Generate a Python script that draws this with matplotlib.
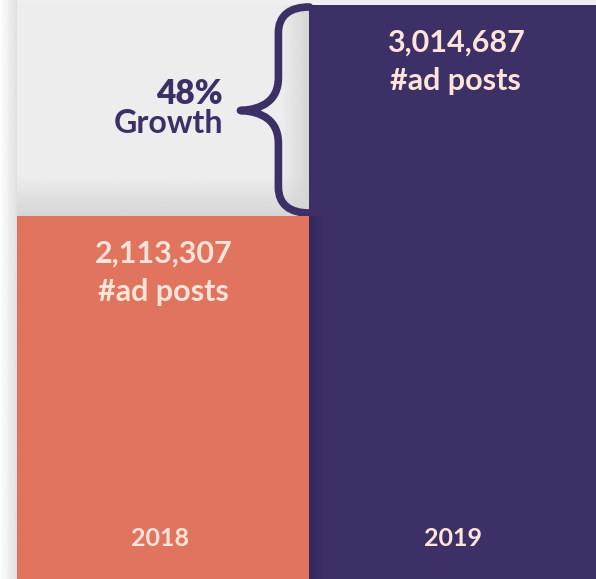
import numpy as np
import matplotlib.pyplot as plt
from matplotlib.path import Path
from matplotlib.patches import PathPatch, Rectangle
from matplotlib.colors import to_rgb
import matplotlib.transforms as mtransforms

years = ['2018', '2019']
posts = [2113307, 3014687]
growth_label = '48%'

orange = '#E1745F'
purple = '#3D3067'
peach = '#FFE4DA'
panel = '#EDEDED'

plt.rcParams['font.family'] = ['Lato', 'DejaVu Sans']

fig = plt.figure(figsize=(5.96, 5.79), dpi=100)
ax = fig.add_axes([0, 0, 1, 1])
ax.set_axis_off()

# pixel -> data scales (bars are ~292 px wide, gap between tops is 211 px)
ux = 1 / 292.4
uy = (posts[1] - posts[0]) / 211
ax.set_xlim(-0.5 - 17 * ux, -0.5 + 579 * ux)
ax.set_ylim(posts[0] - 363 * uy, posts[1] + 5 * uy)
y0, y1 = ax.get_ylim()
x0, x1 = ax.get_xlim()


def grad(ext, color, a0, a1, horizontal=True, z=1):
    n = 64
    a = np.linspace(a0, a1, n)
    img = np.zeros((1, n, 4)) if horizontal else np.zeros((n, 1, 4))
    img[..., :3] = to_rgb(color)
    img[..., 3] = a if horizontal else a[:, None]
    ax.imshow(img, extent=ext, aspect='auto', zorder=z, interpolation='bilinear', origin='lower')


# light background / shadows
ax.add_patch(Rectangle((-0.5, posts[1]), x1 + 0.5, y1 - posts[1], color='#EFEFEF', zorder=0, lw=0))
grad([x0, -0.5, y0, y1], '#E0E0E0', 0.0, 1.0, True, 0)
ax.add_patch(Rectangle((-0.5, posts[0]), 1, posts[1] - posts[0], color=panel, zorder=0.5, lw=0))
grad([-0.5, 0.5, posts[0], posts[0] + 40 * uy], '#D6D6D6', 1.0, 0.0, False, 0.6)
grad([0.5 - 28 * ux, 0.5, posts[0], posts[1]], '#D4D4D4', 0.0, 0.9, True, 0.6)

# bars
ax.bar([0, 1], posts, width=1, color=[orange, purple], zorder=2, linewidth=0)
grad([0.5, 0.5 + 14 * ux, y0, posts[0]], '#2C2152', 0.6, 0.0, True, 2.1)

# value labels
for i, v in enumerate(posts):
    ax.annotate(f'{v:,}', (i, v), xytext=(0, -27), textcoords='offset points',
                ha='center', va='center', color=peach, fontsize=22, fontweight='bold', zorder=3)
    ax.annotate('#ad posts', (i, v), xytext=(0, -55), textcoords='offset points',
                ha='center', va='center', color=peach, fontsize=22, fontweight='bold', zorder=3)

trans = mtransforms.blended_transform_factory(ax.transData, ax.transAxes)
for i, yr in enumerate(years):
    ax.text(i - 0.01, 41 / 579, yr, transform=trans, ha='center', va='center',
            color=peach, fontsize=18, fontweight='bold', zorder=3)

# curly brace between the two tops
xb = 0.5
mid = (posts[0] + posts[1]) / 2
top = posts[1] - 2 * uy
bot = posts[0] + 3 * uy
xv = xb - 31 * ux
xt = xb - 69 * ux
verts = [
    (xb, top), (xb - 19 * ux, top), (xv, top - 8 * uy), (xv, top - 26 * uy),
    (xv, mid + 33 * uy),
    (xv, mid + 10 * uy), (xv - 16 * ux, mid + 1 * uy), (xt, mid),
    (xv - 16 * ux, mid - 1 * uy), (xv, mid - 10 * uy), (xv, mid - 33 * uy),
    (xv, bot + 26 * uy),
    (xv, bot + 8 * uy), (xb - 19 * ux, bot), (xb, bot),
]
codes = [Path.MOVETO, Path.CURVE4, Path.CURVE4, Path.CURVE4,
         Path.LINETO,
         Path.CURVE4, Path.CURVE4, Path.CURVE4,
         Path.CURVE4, Path.CURVE4, Path.CURVE4,
         Path.LINETO,
         Path.CURVE4, Path.CURVE4, Path.CURVE4]
ax.add_patch(PathPatch(Path(verts, codes), fill=False, edgecolor=purple, lw=5.5,
                       capstyle='round', joinstyle='round', zorder=1.5))

xl = -0.5 + 206 * ux
ax.text(xl, mid + 17 * uy, growth_label, ha='right', va='center', color=purple,
        fontsize=24, fontweight='heavy', zorder=3)
ax.text(xl, mid - 13 * uy, 'Growth', ha='right', va='center', color=purple,
        fontsize=23, fontweight='bold', zorder=3)

fig.savefig('out.png', dpi=100)
